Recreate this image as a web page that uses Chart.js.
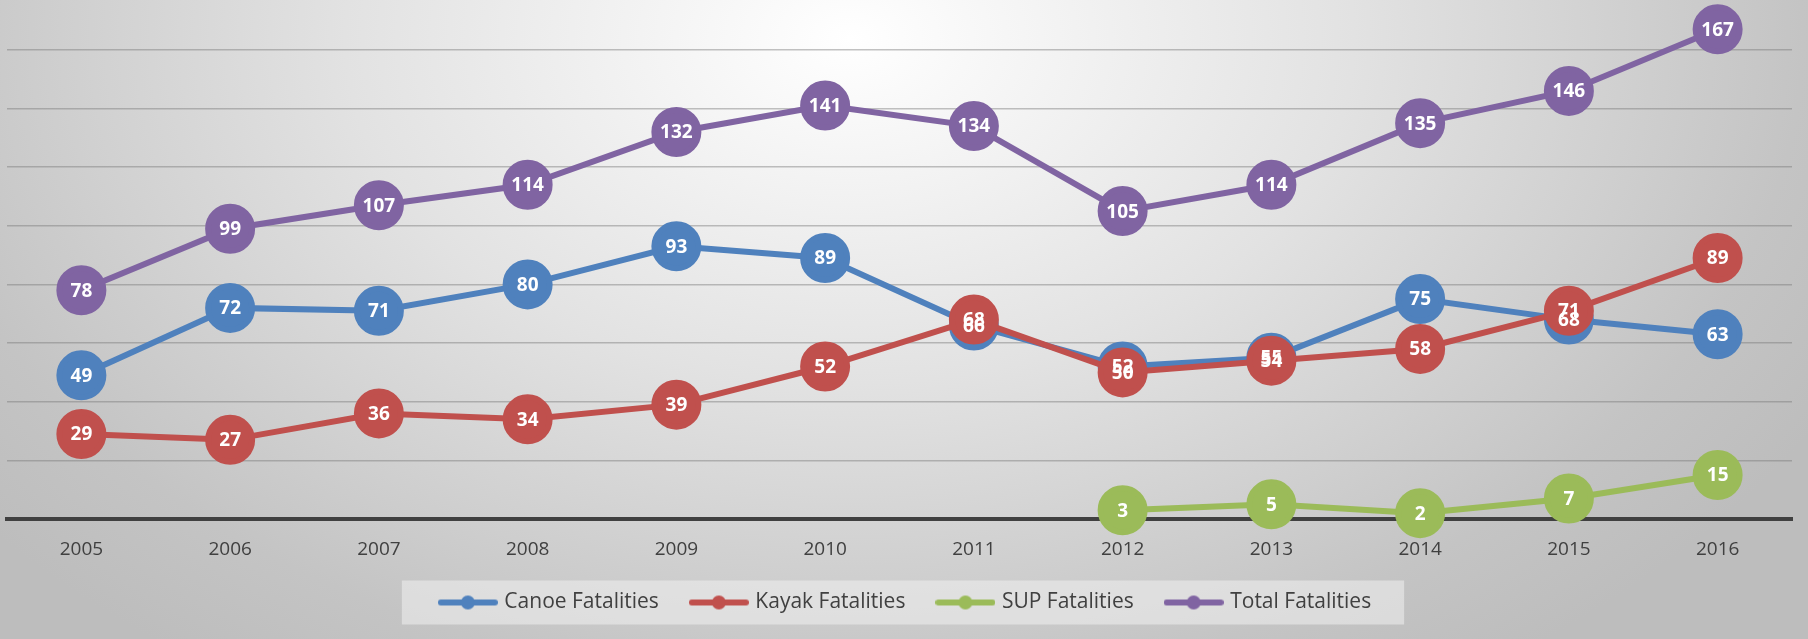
<!DOCTYPE html>
<html>
<head>
<meta charset="utf-8">
<script src="https://cdn.jsdelivr.net/npm/chart.js@4"></script>
<style>
	html, body { margin: 0; padding: 0; }
	body {
		width: 1808px;
		height: 639px;
		overflow: hidden;
		background: radial-gradient(ellipse 62% 120% at 47% 6%, #ffffff 0%, #e2e2e2 45%, #c4c4c4 85%, #bdbdbd 100%);
	}
	#wrap { position: relative; width: 1808px; height: 639px; }
</style>
</head>
<body>
<div id="wrap"><canvas id="fatalChart"></canvas></div>
<script>
const years = ["2005", "2006", "2007", "2008", "2009", "2010", "2011", "2012", "2013", "2014", "2015", "2016"];
const canoe = [49, 72, 71, 80, 93, 89, 66, 52, 55, 75, 68, 63];
const kayak = [29, 27, 36, 34, 39, 52, 68, 50, 54, 58, 71, 89];
const sup = [null, null, null, null, null, null, null, 3, 5, 2, 7, 15];
const total = [78, 99, 107, 114, 132, 141, 134, 105, 114, 135, 146, 167];
const yTicks = [0, 20, 40, 60, 80, 100, 120, 140, 160];

window.addEventListener("DOMContentLoaded", () => {
	const ctx = document.getElementById("fatalChart").getContext("2d");

	const colors = {
		canoe: "#4F81BD",
		kayak: "#C0504D",
		sup: "#9BBB59",
		total: "#8064A2",
	};

	// little line-with-dot marker for the legend
	const makeMarker = (color) => {
		const c = document.createElement("canvas");
		c.width = 60;
		c.height = 16;
		const g = c.getContext("2d");
		g.strokeStyle = color;
		g.lineWidth = 6;
		g.lineCap = "round";
		g.beginPath();
		g.moveTo(3, 8);
		g.lineTo(57, 8);
		g.stroke();
		g.fillStyle = color;
		g.beginPath();
		g.arc(30, 8, 7, 0, Math.PI * 2);
		g.fill();
		return c;
	};

	const series = (label, data, color, order) => ({
		label: label,
		data: data,
		borderColor: color,
		backgroundColor: color,
		pointBackgroundColor: color,
		pointBorderColor: color,
		pointRadius: 22,
		pointHoverRadius: 22,
		borderWidth: 6,
		tension: 0,
		clip: false,
		order: order,
	});

	const datasets = [
		series("Canoe Fatalities", canoe, colors.canoe, 1),
		series("Kayak Fatalities", kayak, colors.kayak, 0),
		series("SUP Fatalities", sup, colors.sup, 2),
		series("Total Fatalities", total, colors.total, 3),
	];
	const markers = datasets.map(d => makeMarker(d.borderColor));

	// white numbers inside the points
	const pointLabels = {
		id: "pointLabels",
		afterDatasetsDraw(chart) {
			const c = chart.ctx;
			c.save();
			c.font = "bold 19px 'Open Sans'";
			c.fillStyle = "#ffffff";
			c.textAlign = "center";
			c.textBaseline = "middle";
			[1, 0, 2, 3].forEach(i => {
				const meta = chart.getDatasetMeta(i);
				meta.data.forEach((pt, j) => {
					const v = chart.data.datasets[i].data[j];
					if (v === null) return;
					c.fillText(String(v), pt.x, pt.y + 1);
				});
			});
			c.restore();
		},
	};

	// light panel behind the legend, legend nudged a bit to the right
	const legendPanel = {
		id: "legendPanel",
		afterLayout(chart) {
			if (chart.legend) {
				chart.legend.left += 7;
				chart.legend.right += 7;
			}
		},
		beforeDraw(chart) {
			const lg = chart.legend;
			if (!lg || !lg.legendHitBoxes || !lg.legendHitBoxes.length) return;
			const boxes = lg.legendHitBoxes;
			const first = boxes[0];
			const last = boxes[boxes.length - 1];
			const x0 = first.left - 40;
			const x1 = last.left + last.width + 33;
			const cy = first.top + first.height / 2;
			const c = chart.ctx;
			c.save();
			c.fillStyle = "rgba(240, 240, 240, 0.55)";
			c.fillRect(x0, cy - 22, x1 - x0, 44);
			c.restore();
		},
	};

	const config = {
		type: "line",
		data: {
			labels: years,
			datasets: datasets,
		},
		options: {
			responsive: true,
			maintainAspectRatio: false,
			animation: false,
			layout: {
				autoPadding: false,
				padding: { left: 7, right: 16, top: 0, bottom: 16 },
			},
			scales: {
				x: {
					offset: true,
					grid: { display: false, drawTicks: false },
					border: { display: true, color: "#404040", width: 4 },
					ticks: {
						color: "#404040",
						font: { family: "'Open Sans'", size: 19 },
						padding: 19,
					},
					afterFit: (axis) => {
						axis.height = 39;
					},
				},
				y: {
					min: 0,
					max: 177,
					afterBuildTicks: (axis) => {
						axis.ticks = yTicks.map(v => ({ value: v }));
					},
					grid: {
						color: "rgba(120, 120, 120, 0.45)",
						lineWidth: 1.5,
						drawTicks: false,
					},
					border: { display: false },
					ticks: { display: false },
				},
			},
			plugins: {
				legend: {
					position: "bottom",
					labels: {
						usePointStyle: true,
						pointStyleWidth: 52,
						padding: 34,
						color: "#404040",
						font: { family: "'Open Sans'", size: 21 },
						sort: (a, b) => a.datasetIndex - b.datasetIndex,
						generateLabels: (chart) => {
							const items = Chart.defaults.plugins.legend.labels.generateLabels(chart);
							return items.map(it => Object.assign(it, { pointStyle: markers[it.datasetIndex] }));
						},
					},
				},
				tooltip: { enabled: false },
			},
		},
		plugins: [pointLabels, legendPanel],
	};

	new Chart(ctx, config);
});
</script>
</body>
</html>
